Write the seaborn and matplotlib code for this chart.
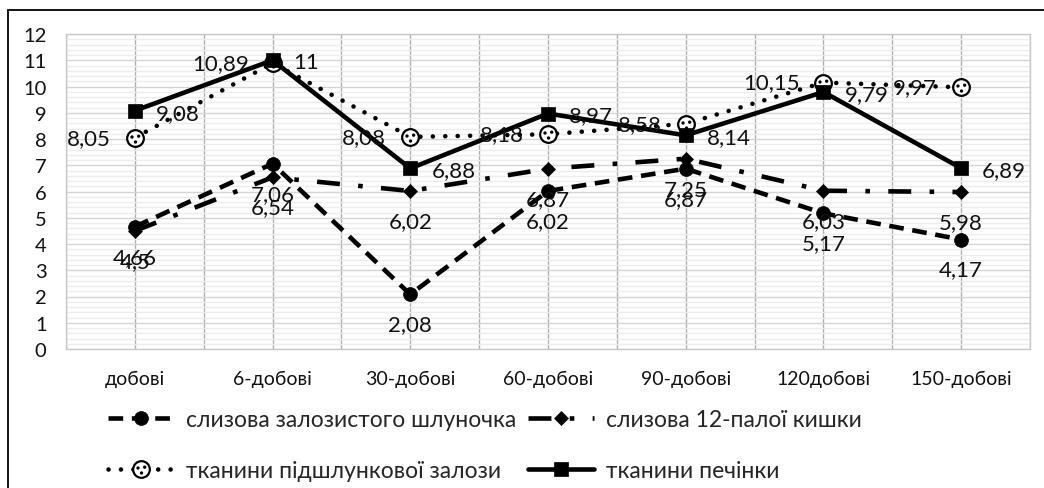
import numpy as np
import matplotlib
matplotlib.use("Agg")
import matplotlib.pyplot as plt
import seaborn as sns
from matplotlib.path import Path
from matplotlib.patches import Rectangle
from matplotlib.ticker import MultipleLocator

categories = ["добові", "6-добові", "30-добові", "60-добові", "90-добові", "120добові", "150-добові"]
gland_stomach = [4.66, 7.06, 2.08, 6.02, 6.87, 5.17, 4.17]
duodenum = [4.5, 6.54, 6.02, 6.87, 7.25, 6.03, 5.98]
pancreas = [8.05, 10.89, 8.08, 8.18, 8.58, 10.15, 9.97]
liver = [9.08, 11, 6.88, 8.97, 8.14, 9.79, 6.89]
series_names = ["слизова залозистого шлуночка", "слизова 12-палої кишки",
                "тканини підшлункової залози", "тканини печінки"]
y_ticks = list(range(0, 13))

sns.set_theme(style="white")
plt.rcParams["font.family"] = ["Lato", "Noto Sans", "DejaVu Sans"]

W, H = 1044, 489
fig = plt.figure(figsize=(W / 100, H / 100), dpi=100)
ax = fig.add_axes([66 / W, 1 - 350 / H, (1030 - 66) / W, (350 - 35) / H])
x = np.arange(len(categories))

def fmt(v):
    return f"{v:g}".replace(".", ",")

LW = 3.3
# series 1: dashed, filled circle
sns.lineplot(x=x, y=gland_stomach, ax=ax, color="black", lw=LW,
             linestyle=(0, (3.2, 1.9)), marker="o", ms=10, mfc="black", mec="black", mew=0.5,
             label=series_names[0])
l1 = ax.lines[-1]
# series 2: dash-dot, diamond
sns.lineplot(x=x, y=duodenum, ax=ax, color="black", lw=LW,
             linestyle=(0, (5.0, 4.0, 1, 4.0)), marker="D", ms=7, mfc="black", mec="black", mew=0.5,
             label=series_names[1])
l2 = ax.lines[-1]
# series 3: dotted, patterned circle
sns.lineplot(x=x, y=pancreas, ax=ax, color="black", lw=LW,
             linestyle=(0, (0.01, 2.7)), dash_capstyle="round",
             marker="o", ms=12, mfc="white", mec="black", mew=1.6,
             label=series_names[2])
l3 = ax.lines[-1]
dots = Path.make_compound_path(
    Path.circle((-0.42, 0.18), 0.2),
    Path.circle((0.38, 0.28), 0.2),
    Path.circle((0.0, -0.42), 0.2),
)
sns.lineplot(x=x, y=pancreas, ax=ax, color="black", linestyle="", marker=dots,
             ms=12 * 0.62, mfc="black", mec="black", mew=0)
l3d = ax.lines[-1]
# series 4: solid, square
sns.lineplot(x=x, y=liver, ax=ax, color="black", lw=LW, linestyle="-",
             marker="s", ms=10, mfc="black", mec="black", mew=0.5,
             label=series_names[3])
l4 = ax.lines[-1]
if ax.get_legend() is not None:
    ax.get_legend().remove()

lab_fs = 16
for xi, v in zip(x, gland_stomach):
    ax.annotate(fmt(v), (xi, v), xytext=(0, -30), textcoords="offset pixels",
                ha="center", va="center", fontsize=lab_fs, color="#111111")
for xi, v in zip(x, duodenum):
    ax.annotate(fmt(v), (xi, v), xytext=(0, -30), textcoords="offset pixels",
                ha="center", va="center", fontsize=lab_fs, color="#111111")
for xi, v in zip(x, pancreas):
    ax.annotate(fmt(v), (xi, v), xytext=(-24, 0), textcoords="offset pixels",
                ha="right", va="center", fontsize=lab_fs, color="#111111")
for xi, v in zip(x, liver):
    ax.annotate(fmt(v), (xi, v), xytext=(21, -2), textcoords="offset pixels",
                ha="left", va="center", fontsize=lab_fs, color="#111111")

ax.set_xlim(-0.5, len(categories) - 0.5)
ax.set_ylim(0, 12)
ax.set_xticks(x)
ax.set_xticklabels(categories)
ax.xaxis.set_minor_locator(MultipleLocator(0.5))
ax.set_yticks(y_ticks)
ax.yaxis.set_minor_locator(MultipleLocator(0.2))
ax.tick_params(axis="both", which="both", length=0)
ax.tick_params(axis="y", labelsize=14.5, pad=14, colors="#111111")
ax.tick_params(axis="x", labelsize=14, pad=15, colors="#111111")
ax.set_axisbelow(True)
ax.xaxis.grid(True, which="both", color="#b0b0b0", lw=1)
ax.yaxis.grid(True, which="major", color="#d4d4d4", lw=1)
ax.yaxis.grid(True, which="minor", color="#ececec", lw=1)
for s in ax.spines.values():
    s.set_color("#c8c8c8")
    s.set_linewidth(1)

fig.legend(handles=[l1, (l3, l3d), l2, l4],
           labels=[series_names[0], series_names[2], series_names[1], series_names[3]],
           ncol=2, loc="upper left", bbox_to_anchor=(108 / W, 1 - 410 / H),
           frameon=False, handlelength=2.9, handletextpad=0.5, columnspacing=0.5,
           labelspacing=1.3, fontsize=16.5, borderpad=0, borderaxespad=0)

fig.add_artist(Rectangle((8 / W, -0.5), 2.0, 0.5 + 1 - 11 / H, transform=fig.transFigure,
                         fill=False, ec="black", lw=1.3, clip_on=False))

fig.savefig("out.png", dpi=100)
